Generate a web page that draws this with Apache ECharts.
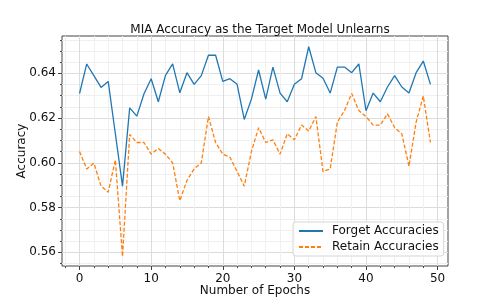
<!DOCTYPE html>
<html>
<head>
<meta charset="utf-8">
<script src="https://cdn.jsdelivr.net/npm/echarts@6/dist/echarts.min.js"></script>
<style>html,body{margin:0;padding:0;background:#fff;}#c{width:498px;height:299px;}</style>
</head>
<body>
<div id="c"></div>
<script>
const epochs = Array.from({length: 50}, (_, i) => i);
const forgetAcc = [0.6310,0.6442,0.6390,0.6337,0.6364,0.6130,0.5896,0.6246,0.6209,0.6309,
  0.6376,0.6273,0.6391,0.6442,0.6313,0.6403,0.6351,0.6390,0.6481,0.6481,
  0.6364,0.6376,0.6351,0.6194,0.6285,0.6415,0.6285,0.6428,0.6312,0.6273,
  0.6351,0.6376,0.6519,0.6403,0.6378,0.6312,0.6428,0.6428,0.6403,0.6442,
  0.6233,0.6312,0.6273,0.6339,0.6390,0.6339,0.6312,0.6403,0.6455,0.6351];
const retainAcc = [0.6051,0.5973,0.5999,0.5896,0.5869,0.6013,0.5582,0.6127,0.6091,0.6091,
  0.6039,0.6064,0.6039,0.6000,0.5831,0.5921,0.5973,0.6000,0.6207,0.6091,
  0.6039,0.6025,0.5961,0.5896,0.6051,0.6157,0.6091,0.6103,0.6039,0.6130,
  0.6103,0.6169,0.6142,0.6207,0.5961,0.5973,0.6182,0.6234,0.6310,0.6234,
  0.6207,0.6169,0.6169,0.6219,0.6157,0.6130,0.5985,0.6182,0.6299,0.6091];
const xTicks = [0, 10, 20, 30, 40, 50];
const xMinorTicks = [-2, 2, 4, 6, 8, 12, 14, 16, 18, 22, 24, 26, 28, 32, 34, 36, 38, 42, 44, 46, 48];
const yTicks = [0.56, 0.58, 0.60, 0.62, 0.64];
const yMinorTicks = [0.555, 0.565, 0.57, 0.575, 0.585, 0.59, 0.595, 0.605, 0.61, 0.615, 0.625, 0.63, 0.635, 0.645, 0.65, 0.655];
const xRange = [-2.45, 51.45];
const yRange = [0.5539, 0.6567];

const FONT = 'DejaVu Sans';
const chart = echarts.init(document.getElementById('c'), null, {renderer: 'canvas'});
const forgetData = epochs.map((e, i) => [e, forgetAcc[i]]);
const retainData = epochs.map((e, i) => [e, retainAcc[i]]);

const baseX = {
  type: 'value', min: xRange[0], max: xRange[1], gridIndex: 0, position: 'bottom',
  axisLine: {show: false, onZero: false}
};
const baseY = {
  type: 'value', min: yRange[0], max: yRange[1], gridIndex: 0, position: 'left',
  axisLine: {show: false, onZero: false}
};

chart.setOption({
  animation: false,
  backgroundColor: '#fff',
  title: {
    text: 'MIA Accuracy as the Target Model Unlearns',
    left: 255, textAlign: 'center', top: 19,
    textStyle: {fontFamily: FONT, fontSize: 12, fontWeight: 'normal', color: '#111'}
  },
  grid: {left: 62, right: 50, top: 36, bottom: 33, show: true, borderColor: '#444', borderWidth: 1,
    backgroundColor: 'transparent', outerBoundsMode: 'none', containLabel: false},
  legend: {
    orient: 'vertical', left: 293, top: 222,
    padding: [3, 5, 3, 5], itemGap: 4, itemWidth: 24, itemHeight: 14,
    backgroundColor: 'rgba(255,255,255,0.85)', borderColor: '#d5d5d5', borderWidth: 1, borderRadius: 3,
    itemStyle: {opacity: 0},
    textStyle: {fontFamily: FONT, fontSize: 12, color: '#111', padding: [0, 0, 0, 4]},
    data: ['Forget Accuracies', 'Retain Accuracies']
  },
  xAxis: [
    Object.assign({}, baseX, {
      name: 'Number of Epochs', nameLocation: 'middle', nameGap: 19, nameMoveOverlap: false,
      nameTextStyle: {fontFamily: FONT, fontSize: 12, color: '#111', verticalAlign: 'top'},
      axisTick: {show: true, length: 4, lineStyle: {color: '#444'}, customValues: xTicks},
      axisLabel: {fontFamily: FONT, fontSize: 12, color: '#111', margin: 7, customValues: xTicks},
      splitLine: {show: true, lineStyle: {color: '#dcdcdc', width: 1}}
    }),
    Object.assign({}, baseX, {
      axisTick: {show: true, length: 2, lineStyle: {color: '#444'}, customValues: xMinorTicks},
      axisLabel: {show: false, customValues: xMinorTicks},
      splitLine: {show: true, lineStyle: {color: '#f0f0f0', width: 1}}
    })
  ],
  yAxis: [
    Object.assign({}, baseY, {
      name: 'Accuracy', nameLocation: 'middle', nameGap: 34, nameMoveOverlap: false,
      nameTextStyle: {fontFamily: FONT, fontSize: 12, color: '#111'},
      axisTick: {show: true, length: 4, lineStyle: {color: '#444'}, customValues: yTicks},
      axisLabel: {fontFamily: FONT, fontSize: 12, color: '#111', margin: 6, customValues: yTicks,
        formatter: v => v.toFixed(2)},
      splitLine: {show: true, lineStyle: {color: '#dcdcdc', width: 1}}
    }),
    Object.assign({}, baseY, {
      axisTick: {show: true, length: 2, lineStyle: {color: '#444'}, customValues: yMinorTicks},
      axisLabel: {show: false, customValues: yMinorTicks},
      splitLine: {show: true, lineStyle: {color: '#f0f0f0', width: 1}}
    })
  ],
  series: [
    {name: 'Forget Accuracies', type: 'line', data: forgetData, symbol: 'none', xAxisIndex: 0, yAxisIndex: 0,
      color: '#1f77b4', lineStyle: {color: '#1f77b4', width: 1.3}, z: 3},
    {name: 'Retain Accuracies', type: 'line', data: retainData, symbol: 'none', xAxisIndex: 0, yAxisIndex: 0,
      color: '#ff7f0e', lineStyle: {color: '#ff7f0e', width: 1.3, type: [4, 2]}, z: 2}
  ]
});
</script>
</body>
</html>
